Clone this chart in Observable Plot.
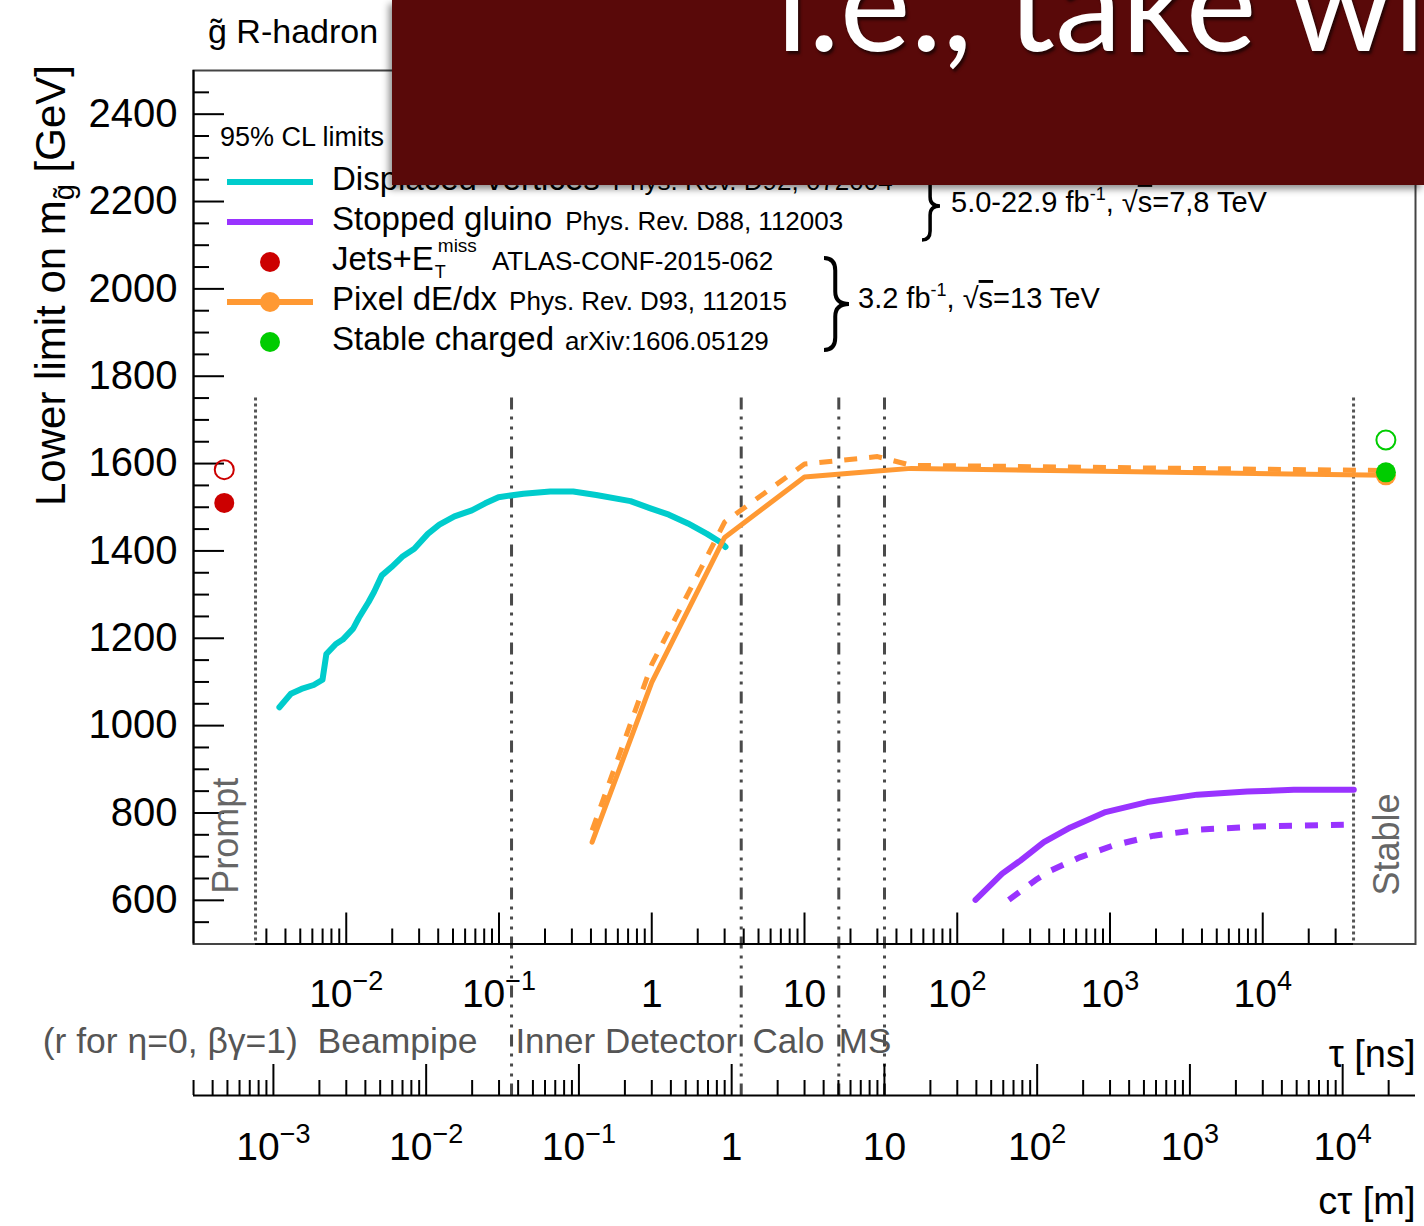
<!DOCTYPE html>
<html>
<head>
<meta charset="utf-8">
<script src="https://cdn.jsdelivr.net/npm/d3@7"></script>
<script src="https://cdn.jsdelivr.net/npm/@observablehq/plot@0.6"></script>
<style>
  html, body { margin: 0; padding: 0; background: #fff; }
  #wrap { position: relative; width: 1424px; height: 1226px; overflow: hidden; background: #fff; }
  #wrap > svg { position: absolute; left: 0; top: 0; }
  #banner { position: absolute; left: 392px; top: 0; width: 1032px; height: 185px; background: #590909;
            box-shadow: -3px 4px 7px rgba(0,0,0,0.45); overflow: hidden; z-index: 5; }
  #banner svg { position: absolute; left: 0; top: 0; }
</style>
</head>
<body>
<div id="wrap"></div>
<script>
// ---------------- data ----------------
const C_M_PER_NS = 0.299792458;

// Displaced vertices (cyan): lifetime tau [ns], lower mass limit [GeV]
const dvTau  = [3.65e-3, 4.34e-3, 5.09e-3, 6.12e-3, 6.99e-3, 7.41e-3, 8.55e-3, 9.49e-3, 0.01109, 0.0121,
                0.0140, 0.0152, 0.0171, 0.0198, 0.0235, 0.0279, 0.0342, 0.0407, 0.0511, 0.0664,
                0.0812, 0.0992, 0.1446, 0.2164, 0.306, 0.433, 0.726, 0.970, 1.295, 1.727,
                2.30, 2.82, 3.04];
const dvMass = [1042, 1073, 1084, 1093, 1105, 1164, 1187, 1197, 1222, 1247,
                1283, 1306, 1344, 1363, 1388, 1405, 1439, 1460, 1479, 1493,
                1509, 1523, 1531, 1536, 1536, 1528, 1514, 1498, 1483, 1463,
                1439, 1420, 1409];

// Pixel dE/dx (orange): observed (solid) and expected (dashed)
const pixTau = [0.407, 1, 3, 10, 30, 50, 6.4e4];
const pixObs = [733, 1099, 1431, 1569, 1583, 1589, 1573];
const pixExp = [760, 1140, 1466, 1599, 1616, 1596, 1584];

// Stopped gluino (purple)
const sgObsTau  = [131.7, 196.8, 259, 369, 551, 935, 1752, 3723, 7909, 15970, 39450];
const sgObsMass = [601, 661, 691, 733, 767, 802, 825, 842, 849, 853, 853];
const sgExpTau  = [217.6, 333.8, 407.8, 641, 1059, 1935, 3912, 9198, 33940];
const sgExpMass = [601, 649, 668, 699, 726, 748, 762, 769, 773];

// Prompt (Jets+Etmiss, red) and stable (charged, green) points
const promptPointTau = [1.59e-3];
const jetsObs = [1510];
const jetsExp = [1586];
const stablePointTau = [6.4e4];
const stableObs = [1580];
const stableExp = [1654];
const pixStableObs = [1573];

// Detector boundaries (tau in ns) and region limits
const detectorTau = [0.1208, 3.852, 16.77, 33.4];   // beampipe, inner detector, calo, MS
const promptTau = 2.547e-3;
const stableTau = 3.93e4;

// Ticks
const yMajor = [600, 800, 1000, 1200, 1400, 1600, 1800, 2000, 2200, 2400];
const yMinor = d3.range(550, 2500, 50).filter(v => v % 200 !== 0);
const tauMajor = [1e-2, 1e-1, 1, 10, 1e2, 1e3, 1e4];
const ctMajor  = [1e-3, 1e-2, 1e-1, 1, 10, 1e2, 1e3, 1e4];

// Text
const titleText = "g\u0303 R-hadron";
const detLabelLeft = ["(r for \u03b7=0, \u03b2\u03b3=1)\u00a0 Beampipe"];
const detLabelLeftTau = [0.0723];
const detLabelsRight = ["Inner Detector", "Calo", "MS"];
const detLabelsRightTau = [0.128, 4.57, 16.77];

// Colours
const CYAN = "#00cccc", ORANGE = "#ff9933", PURPLE = "#9933ff", RED = "#cc0000", GREEN = "#00cc00";
const FONT = "'Liberation Sans', Arial, Helvetica, sans-serif";

// ---------------- derived tick sets ----------------
const tauMinor = [];
for (let e = -3; e <= 4; e++) for (let k = 2; k <= 9; k++) {
  const v = k * Math.pow(10, e);
  if (v > promptTau && v < stableTau) tauMinor.push(v);
}
const ctMajorTau = ctMajor.map(c => c / C_M_PER_NS);
const ctMinorTau = [];
for (let e = -4; e <= 4; e++) for (let k = 2; k <= 9; k++) {
  const t = k * Math.pow(10, e) / C_M_PER_NS;
  if (t > 1e-3 && t < 1e5) ctMinorTau.push(t);
}
const expLabel = v => {
  const e = Math.round(Math.log10(v));
  return e === 0 ? "1" : e === 1 ? "10" : `10^${e}`;
};

const CT_DY = 151.5; // offset of the c*tau axis below the frame

const plot = Plot.plot({
  width: 1424, height: 1226,
  marginLeft: 193, marginRight: 9, marginTop: 70, marginBottom: 282.5,
  style: {fontFamily: FONT, background: "white", color: "black", overflow: "visible"},
  x: {type: "log", domain: [1e-3, 1e5]},
  y: {domain: [500, 2500]},
  marks: [
    Plot.frame({stroke: "#444", strokeWidth: 2}),
    // region boundaries
    Plot.ruleX(detectorTau, {y1: 1750, y2: 500, insetBottom: -CT_DY, stroke: "#4a4a4a", strokeWidth: 3,
                             strokeDasharray: "12,7,3,7,3,7,3,7"}),
    Plot.ruleX([promptTau, stableTau], {y1: 1750, y2: 500, stroke: "#555", strokeWidth: 3, strokeDasharray: "3,3"}),
    // y axis
    Plot.ruleX([1e-3], {stroke: "black", strokeWidth: 2}),
    Plot.axisY(yMajor, {anchor: "left", tickSize: -31, strokeWidth: 2, fill: "none", label: null}),
    Plot.axisY(yMinor, {anchor: "left", tickSize: -16, strokeWidth: 2, fill: "none", label: null}),
    Plot.axisY(yMajor, {anchor: "left", tickSize: 0, tickPadding: 16, fontSize: 40, tickFormat: d => String(d), label: null}),
    // tau axis (inside the frame bottom)
    Plot.ruleY([500], {x1: promptTau, x2: stableTau, stroke: "black", strokeWidth: 2}),
    Plot.axisX(tauMajor, {anchor: "bottom", tickSize: -31, strokeWidth: 2, fill: "none", label: null}),
    Plot.axisX(tauMinor, {anchor: "bottom", tickSize: -15, strokeWidth: 2, fill: "none", label: null}),
    Plot.axisX(tauMajor, {anchor: "bottom", tickSize: 0, tickPadding: 35.5, fontSize: 39, tickFormat: expLabel, label: null}),
    // c*tau axis (below)
    Plot.ruleY([500], {dy: CT_DY, stroke: "black", strokeWidth: 2}),
    Plot.axisX(ctMajorTau, {anchor: "bottom", dy: CT_DY, tickSize: -31, strokeWidth: 2, fill: "none", label: null}),
    Plot.axisX(ctMinorTau, {anchor: "bottom", dy: CT_DY, tickSize: -15, strokeWidth: 2, fill: "none", label: null}),
    Plot.text(ctMajorTau, {x: d => d, text: d => expLabel(d * C_M_PER_NS), frameAnchor: "bottom", textAnchor: "middle",
                           lineAnchor: "top", dy: CT_DY + 37, fontSize: 39}),
    // data
    Plot.line(dvTau, {x: dvTau, y: dvMass, stroke: CYAN, strokeWidth: 6}),
    Plot.line(pixTau, {x: pixTau, y: pixExp, stroke: ORANGE, strokeWidth: 5, strokeDasharray: "13,12", strokeLinecap: "butt"}),
    Plot.line(pixTau, {x: pixTau, y: pixObs, stroke: ORANGE, strokeWidth: 5}),
    Plot.line(sgExpTau, {x: sgExpTau, y: sgExpMass, stroke: PURPLE, strokeWidth: 6, strokeDasharray: "13,13", strokeLinecap: "butt"}),
    Plot.line(sgObsTau, {x: sgObsTau, y: sgObsMass, stroke: PURPLE, strokeWidth: 6}),
    Plot.dot(promptPointTau, {x: promptPointTau, y: jetsObs, r: 10, fill: RED, stroke: "none"}),
    Plot.dot(promptPointTau, {x: promptPointTau, y: jetsExp, r: 9.5, fill: "none", stroke: RED, strokeWidth: 2}),
    Plot.dot(stablePointTau, {x: stablePointTau, y: pixStableObs, r: 10, fill: ORANGE, stroke: "none"}),
    Plot.dot(stablePointTau, {x: stablePointTau, y: stableObs, r: 10, fill: GREEN, stroke: "none"}),
    Plot.dot(stablePointTau, {x: stablePointTau, y: stableExp, r: 9.5, fill: "none", stroke: GREEN, strokeWidth: 2}),
    // region annotations
    Plot.text(["Prompt"], {x: [1.644e-3], y: [615], text: d => d, rotate: -90, textAnchor: "start", fontSize: 36, fill: "#666"}),
    Plot.text(["Stable"], {x: [6.53e4], y: [611], text: d => d, rotate: -90, textAnchor: "start", fontSize: 36, fill: "#666"}),
    Plot.text(detLabelLeft, {x: detLabelLeftTau, text: d => d, frameAnchor: "bottom", textAnchor: "end", lineAnchor: "bottom",
                             dy: 108.5, fontSize: 35.5, fill: "#555"}),
    Plot.text(detLabelsRight, {x: detLabelsRightTau, text: d => d, frameAnchor: "bottom", textAnchor: "start", lineAnchor: "bottom",
                               dy: 108.5, fontSize: 35, fill: "#555"}),
    Plot.text(["\u03c4 [ns]"], {text: d => d, frameAnchor: "bottom-right", textAnchor: "end", lineAnchor: "bottom", dy: 122.5, fontSize: 38}),
    Plot.text(["c\u03c4 [m]"], {text: d => d, frameAnchor: "bottom-right", textAnchor: "end", lineAnchor: "bottom", dy: 269.5, fontSize: 38})
  ]
});

const wrap = document.getElementById("wrap");
wrap.appendChild(plot);

// superscripts for 10^n tick labels
d3.select(plot).selectAll("text").each(function () {
  const m = /^10\^(.+)$/.exec(this.textContent);
  if (m) {
    const sel = d3.select(this);
    sel.text("10");
    sel.append("tspan").attr("dy", -17).attr("font-size", 27).text(m[1].replace("-", "\u2212"));
  }
});

// ---------------- overlay: title, y title, legend ----------------
const ov = d3.select(wrap).append("svg")
  .attr("width", 1424).attr("height", 1226)
  .attr("font-family", FONT)
  .style("position", "absolute").style("left", 0).style("top", 0);

ov.append("text").attr("x", 208).attr("y", 43).attr("font-size", 34).text(titleText);

const yt = ov.append("text").attr("transform", "translate(65,506) rotate(-90)").attr("font-size", 42);
yt.append("tspan").text("Lower limit on m");
yt.append("tspan").attr("font-size", 29).attr("dy", 9).text("g\u0303");
yt.append("tspan").attr("dy", -9).text(" [GeV]");

ov.append("text").attr("x", 220).attr("y", 146).attr("font-size", 27).text("95% CL limits");

const LX0 = 227, LX1 = 313, LDOT = 270, LTX = 332;
function legendLine(y, color) {
  ov.append("line").attr("x1", LX0).attr("x2", LX1).attr("y1", y).attr("y2", y)
    .attr("stroke", color).attr("stroke-width", 6);
}
function legendDot(y, color) {
  ov.append("circle").attr("cx", LDOT).attr("cy", y).attr("r", 10).attr("fill", color);
}
function legendText(y, main, ref, gap) {
  const t = ov.append("text").attr("x", LTX).attr("y", y).attr("font-size", 33);
  t.append("tspan").text(main);
  t.append("tspan").attr("dx", gap).attr("font-size", 26).text(ref);
}
legendLine(182, CYAN);
legendText(190, "Displaced vertices", "Phys. Rev. D92, 072004", 13);
legendLine(222, PURPLE);
legendText(230, "Stopped gluino", "Phys. Rev. D88, 112003", 13);
legendDot(262, RED);
{
  const main = ov.append("text").attr("x", LTX).attr("y", 270).attr("font-size", 33).text("Jets+E");
  const w = main.node().getComputedTextLength();
  const miss = ov.append("text").attr("x", LTX + w + 4).attr("y", 252).attr("font-size", 19).text("miss");
  ov.append("text").attr("x", LTX + w + 1).attr("y", 278).attr("font-size", 18).text("T");
  const wm = miss.node().getComputedTextLength();
  ov.append("text").attr("x", LTX + w + 4 + wm + 15).attr("y", 270).attr("font-size", 26).text("ATLAS-CONF-2015-062");
}
legendLine(302, ORANGE);
legendDot(302, ORANGE);
legendText(310, "Pixel dE/dx", "Phys. Rev. D93, 112015", 12);
legendDot(342, GREEN);
legendText(350, "Stable charged", "arXiv:1606.05129", 11);

function bracePath(x0, top, bottom, w) {
  const mid = (top + bottom) / 2, xm = x0 + w * 0.45, r = w * 0.5;
  return `M${x0},${top} Q${xm},${top} ${xm},${top + r} L${xm},${mid - r} Q${xm},${mid} ${x0 + w},${mid}` +
         ` Q${xm},${mid} ${xm},${mid + r} L${xm},${bottom - r} Q${xm},${bottom} ${x0},${bottom}`;
}
ov.append("path").attr("d", bracePath(922, 172, 240, 18)).attr("fill", "none").attr("stroke", "black").attr("stroke-width", 3.5);
ov.append("path").attr("d", bracePath(824, 258, 350, 25)).attr("fill", "none").attr("stroke", "black").attr("stroke-width", 4);

function lumiText(x, y, lumi, energy) {
  const t = ov.append("text").attr("x", x).attr("y", y).attr("font-size", 29);
  t.append("tspan").text(lumi + " fb");
  t.append("tspan").attr("font-size", 18).attr("dy", -12).text("-1");
  t.append("tspan").attr("dy", 12).text(", \u221a");
  t.append("tspan").style("text-decoration", "overline").text("s");
  t.append("tspan").text("=" + energy + " TeV");
}
lumiText(951, 212, "5.0-22.9", "7,8");
lumiText(858, 308, "3.2", "13");

// ---------------- slide banner overlapping the chart ----------------
const banner = d3.select(wrap).append("div").attr("id", "banner");
banner.append("svg").attr("width", 1032).attr("height", 185)
  .append("text").attr("x", 384).attr("y", 51)
  .attr("font-family", "Lato, 'Open Sans', sans-serif").attr("font-size", 134).attr("fill", "#fff")
  .style("text-shadow", "2px 3px 3px rgba(0,0,0,0.6)")
  .text("i.e., take wi");
</script>
</body>
</html>
